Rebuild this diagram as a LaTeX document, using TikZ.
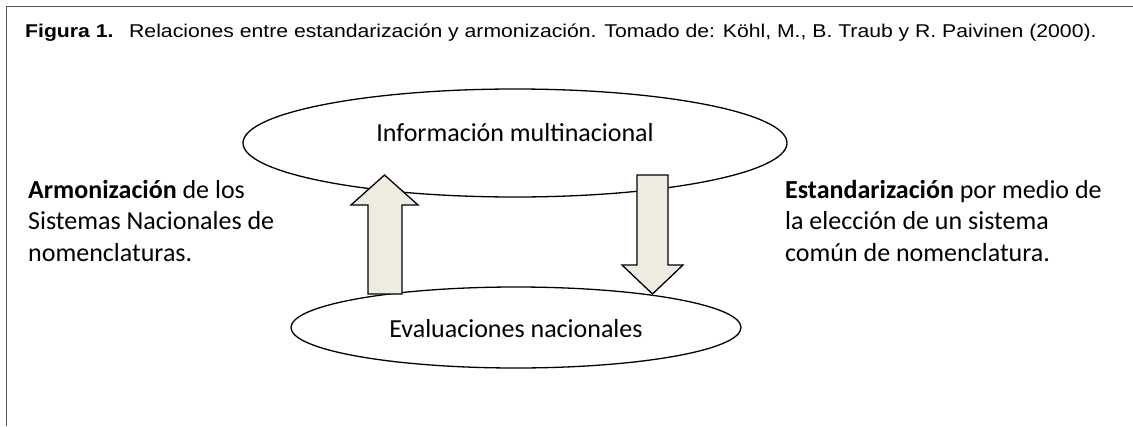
\documentclass[tikz,border=0pt]{standalone}
\usepackage{fontspec}
\setmainfont{Carlito}
\newfontfamily\capfont[FakeStretch=1.145]{Liberation Sans}
\usetikzlibrary{shapes.geometric}
\definecolor{arrowfill}{HTML}{EEECE1}
\definecolor{framegray}{HTML}{555555}
\begin{document}
\begin{tikzpicture}[x=1pt,y=-1pt,
  oval/.style={draw, ellipse, line width=1.3pt, inner sep=0pt},
  blockarrow/.style={draw, fill=arrowfill, line width=1.3pt, line join=miter},
  body/.style={font=\fontsize{26}{31.5}\selectfont, inner sep=0pt},
  line/.style={body, anchor=base west},
  captext/.style={anchor=base west, inner sep=0pt, font=\capfont\fontsize{18.5}{22}\selectfont},
]
\useasboundingbox (0,0) rectangle (1133,426);
\coordinate (fbl) at (6.5,426);
\coordinate (ftl) at (6.5,6.5);
\coordinate (ftr) at (1133,6.5);
\draw[framegray, line width=1.5pt] (fbl) -- (ftl) -- (ftr);

\node[captext] (cap) at (25,37.5) {\textbf{Figura 1.}\hspace{0.85em}Relaciones entre estandarización y armonización. Tomado de: Köhl, M., B. Traub y R. Paivinen (2000).};

\node[oval, minimum width=544pt, minimum height=108pt] (top) at (515,143) {};
\node[oval, minimum width=450pt, minimum height=81pt] (bot) at (516,327.5) {};
\node[body, anchor=base] (toptext) at (515,141) {Información multinacional};
\node[body, anchor=base] (bottext) at (516,337) {Evaluaciones nacionales};

\draw[blockarrow] (368,294) -- (368,205) -- (351,205) -- (384.5,175) -- (418,205) -- (402,205) -- (402,294) -- cycle;
\draw[blockarrow] (637,175) -- (668,175) -- (668,265) -- (683,265) -- (652.5,294) -- (622,265) -- (637,265) -- cycle;

\node[line] (l1) at (28,198) {\textbf{Armonización} de los};
\node[line] (l2) at (28,229.5) {Sistemas Nacionales de};
\node[line] (l3) at (28,261) {nomenclaturas.};
\node[line] (r1) at (785,198) {\textbf{Estandarización} por medio de};
\node[line] (r2) at (785,229.5) {la elección de un sistema};
\node[line] (r3) at (785,261) {común de nomenclatura.};
\end{tikzpicture}
\end{document}
